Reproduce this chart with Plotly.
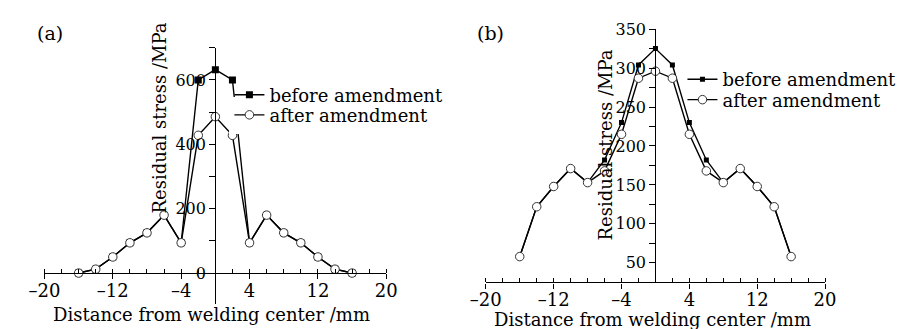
import plotly.graph_objects as go

# ---------------- data ----------------
distance_mm = [-16, -14, -12, -10, -8, -6, -4, -2, 0, 2, 4, 6, 8, 10, 12, 14, 16]

# panel (a)
a_before = [0, 12, 50, 94, 125, 180, 94, 600, 632, 600, 94, 180, 125, 94, 50, 12, 0]
a_after = [0, 12, 50, 94, 125, 180, 94, 428, 486, 428, 94, 180, 125, 94, 50, 12, 0]

# panel (b)
b_before = [58, 122, 148, 171, 153, 182, 230, 304, 325, 304, 230, 182, 153, 171, 148, 122, 58]
b_after = [58, 122, 148, 171, 153, 168, 215, 287, 296, 287, 215, 168, 153, 171, 148, 122, 58]

series_names = ["before amendment", "after amendment"]
x_tickvals = [-20, -12, -4, 4, 12, 20]
x_ticktext = ["\u201320", "\u201312", "\u20134", "4", "12", "20"]
panel_labels = ["(a)", "(b)"]
x_title = "Distance from welding center /mm"
y_title = "Residual stress /MPa"

FONT = "DejaVu Serif"
W, H = 903, 329


def px(x):
    return x / W


def py(y):
    return 1 - y / H


fig = go.Figure()


def add_pair(before, after, xa, ya, leg_before, leg_after, sq_size):
    fig.add_trace(go.Scatter(
        x=distance_mm, y=before, name=series_names[0], mode="lines+markers",
        xaxis=xa, yaxis=ya, legend=leg_before,
        line=dict(color="black", width=1.4),
        marker=dict(symbol="square", size=sq_size, color="black",
                    line=dict(width=0)),
    ))
    fig.add_trace(go.Scatter(
        x=distance_mm, y=after, name=series_names[1], mode="lines+markers",
        xaxis=xa, yaxis=ya, legend=leg_after,
        line=dict(color="black", width=1.4),
        marker=dict(symbol="circle", size=8.5, color="white",
                    line=dict(color="#333333", width=1)),
    ))


# row-2 legend of (a) has a white background and is drawn first
add_pair(a_before, a_after, "x", "y", "legend2", "legend", 7)
add_pair(b_before, b_after, "x2", "y2", "legend3", "legend4", 5)

xcommon = dict(
    range=[-20, 20], tickmode="array", tickvals=x_tickvals, ticktext=x_ticktext,
    ticks="outside", ticklen=5, tickwidth=1.2, tickcolor="black",
    ticklabelstandoff=-4,
    minor=dict(tickmode="linear", tick0=-20, dtick=2, ticks="inside",
               ticklen=4, tickwidth=1.2, tickcolor="black"),
    showline=True, linecolor="black", linewidth=1.4,
    showgrid=False, zeroline=False,
    tickfont=dict(family=FONT, size=18, color="black"),
)
ycommon = dict(
    ticks="outside", ticklen=6, tickwidth=1.2, tickcolor="black",
    showline=True, linecolor="black", linewidth=1.4,
    showgrid=False, zeroline=False,
    tickfont=dict(family=FONT, size=16, color="black"),
)

# panel (a) geometry (pixels)
a_x0, a_x1 = 29.3, 381.7
a_ytop, a_yzero, a_ybot = 39.9, 271.5, 302.9
# panel (b) geometry (pixels)
b_x0, b_x1 = 484.3, 834.0
b_ytop, b_ybot = 20.7, 281.0


def leg(x, y_top, bg):
    return dict(x=px(x), y=py(y_top), xanchor="left", yanchor="top",
                bgcolor=bg, borderwidth=0,
                font=dict(family=FONT, size=18, color="black"))


CLEAR = "rgba(255,255,255,0)"

fig.update_layout(
    width=W, height=H, margin=dict(l=0, r=0, t=0, b=0),
    paper_bgcolor="white", plot_bgcolor="white",
    font=dict(family=FONT, color="black"),
    xaxis=dict(xcommon, domain=[px(a_x0), px(a_x1)], anchor="free",
               position=py(a_yzero)),
    yaxis=dict(ycommon, domain=[py(a_ybot), py(a_ytop)], range=[-95, 700],
               tickmode="linear", tick0=0, dtick=200,
               minor=dict(tickmode="linear", tick0=0, dtick=100, ticks="outside",
                          ticklen=6, tickwidth=1.2, tickcolor="black"),
               anchor="free", position=px((a_x0 + a_x1) / 2)),
    xaxis2=dict(xcommon, domain=[px(b_x0), px(b_x1)], anchor="y2"),
    yaxis2=dict(ycommon, domain=[py(b_ybot), py(b_ytop)], range=[25, 350],
                tickmode="linear", tick0=50, dtick=50,
                minor=dict(tickmode="linear", tick0=25, dtick=25, ticks="outside",
                           ticklen=6, tickwidth=1.2, tickcolor="black"),
                anchor="free", position=px((b_x0 + b_x1) / 2)),
    legend=leg(220, 90.1, "white"),
    legend2=leg(220, 69.5, CLEAR),
    legend3=leg(687, 53.5, CLEAR),
    legend4=leg(687, 74.5, CLEAR),
    showlegend=True,
)

ann = dict(showarrow=False, xref="paper", yref="paper",
           font=dict(family=FONT, size=18, color="black"))
fig.add_annotation(ann, text=panel_labels[0], x=px(35), y=py(25),
                   xanchor="center", yanchor="middle", font_size=19)
fig.add_annotation(ann, text=panel_labels[1], x=px(489), y=py(25),
                   xanchor="center", yanchor="middle", font_size=19)
fig.add_annotation(ann, text=x_title, x=px(201.5), y=py(314),
                   xanchor="center", yanchor="middle")
fig.add_annotation(ann, text=x_title, x=px(656), y=py(319),
                   xanchor="center", yanchor="middle")
fig.add_annotation(ann, text=y_title, x=px(147.5), y=py(112.5), textangle=-90,
                   xanchor="center", yanchor="middle")
fig.add_annotation(ann, text=y_title, x=px(607.5), y=py(140), textangle=-90,
                   xanchor="center", yanchor="middle")

fig.write_html("out.html")
